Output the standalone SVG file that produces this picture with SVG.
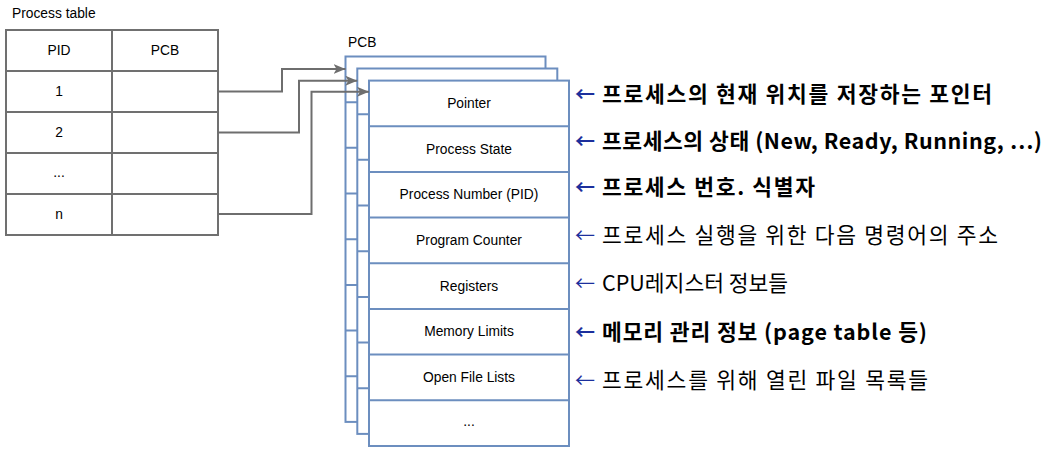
<svg xmlns="http://www.w3.org/2000/svg" xmlns:xlink="http://www.w3.org/1999/xlink" width="1047" height="449" viewBox="0 0 1047 449">
<style>
.lbl{font-family:"Liberation Sans",Arial,sans-serif;font-size:13.8px;fill:#000;text-anchor:middle;dominant-baseline:central}
.tbl{fill:#fff;stroke:#707070;stroke-width:2}
.card{fill:#fff;stroke:#6c8ebf;stroke-width:2}
.row{stroke:#6c8ebf;stroke-width:2}
.conn{fill:none;stroke:#6e6e6e;stroke-width:2}
.ann{font-family:"Noto Sans CJK KR","Noto Sans",sans-serif;font-size:21.5px;fill:#000}
.arr{font-family:"Noto Sans CJK KR","Noto Sans",sans-serif;font-size:20px;fill:#1c2f9c}
.b{font-weight:bold}
</style>
<defs>
<g id="cardShape">
<rect class="card" x="0" y="0" width="200" height="365.4"/>
<path class="row" d="M0,45.67H200M0,91.35H200M0,137H200M0,182.7H200M0,228.4H200M0,274H200M0,319.7H200"/>
</g>
<marker id="ah" markerUnits="userSpaceOnUse" markerWidth="14" markerHeight="12" refX="12" refY="5" orient="auto">
<path d="M0,0 L12,5 L0,10 L3,5 Z" fill="#6e6e6e"/>
</marker>
</defs>
<rect width="1047" height="449" fill="#fff"/>

<text class="lbl" x="12" y="13" style="text-anchor:start">Process table</text>

<g id="process-table">
<rect class="tbl" x="6" y="30" width="106" height="41"/>
<rect class="tbl" x="112" y="30" width="106" height="41"/>
<rect class="tbl" x="6" y="71" width="106" height="41"/>
<rect class="tbl" x="112" y="71" width="106" height="41"/>
<rect class="tbl" x="6" y="112" width="106" height="41"/>
<rect class="tbl" x="112" y="112" width="106" height="41"/>
<rect class="tbl" x="6" y="153" width="106" height="41"/>
<rect class="tbl" x="112" y="153" width="106" height="41"/>
<rect class="tbl" x="6" y="194" width="106" height="41"/>
<rect class="tbl" x="112" y="194" width="106" height="41"/>
<text class="lbl" x="59" y="50.5">PID</text>
<text class="lbl" x="165" y="50.5">PCB</text>
<text class="lbl" x="59" y="91.5">1</text>
<text class="lbl" x="59" y="132.5">2</text>
<text class="lbl" x="59" y="172">...</text>
<text class="lbl" x="59" y="214.5">n</text>
</g>

<text class="lbl" x="348" y="42" style="text-anchor:start">PCB</text>

<g id="pcb-back"><use xlink:href="#cardShape" transform="translate(345.5,56.5)"/></g>
<g id="pcb-middle"><use xlink:href="#cardShape" transform="translate(357.3,68.5)"/></g>
<g id="pcb-front">
<use xlink:href="#cardShape" transform="translate(369,80.6)"/>
<text class="lbl" x="469" y="103.4">Pointer</text>
<text class="lbl" x="469" y="149.1">Process State</text>
<text class="lbl" x="469" y="194.8">Process Number (PID)</text>
<text class="lbl" x="469" y="240.4">Program Counter</text>
<text class="lbl" x="469" y="286.1">Registers</text>
<text class="lbl" x="469" y="331.8">Memory Limits</text>
<text class="lbl" x="469" y="377.4">Open File Lists</text>
<text class="lbl" x="469" y="421">...</text>
</g>

<g id="connectors">
<path class="conn" d="M218,91.5H282V69H345.5" marker-end="url(#ah)"/>
<path class="conn" d="M218,132.5H299V80.7H357.3" marker-end="url(#ah)"/>
<path class="conn" d="M218,214H311.5V91.8H369" marker-end="url(#ah)"/>
</g>

<g id="annotations">
<text class="arr b" x="575" y="102">←</text>
<text class="ann b" x="602" y="102" textLength="390">프로세스의 현재 위치를 저장하는 포인터</text>
<text class="arr b" x="575" y="149">←</text>
<text class="ann b" x="602" y="149" textLength="440">프로세스의 상태 (New, Ready, Running, ⋯)</text>
<text class="arr b" x="575" y="195">←</text>
<text class="ann b" x="602" y="195" textLength="213">프로세스 번호. 식별자</text>
<text class="arr" x="575" y="243">←</text>
<text class="ann" x="602" y="243" textLength="396">프로세스 실행을 위한 다음 명령어의 주소</text>
<text class="arr" x="575" y="291">←</text>
<text class="ann" x="602" y="291">CPU레지스터 정보들</text>
<text class="arr b" x="575" y="340">←</text>
<text class="ann b" x="602" y="340" textLength="325">메모리 관리 정보 (page table 등)</text>
<text class="arr" x="575" y="388">←</text>
<text class="ann" x="602" y="388" textLength="326">프로세스를 위해 열린 파일 목록들</text>
</g>
</svg>
